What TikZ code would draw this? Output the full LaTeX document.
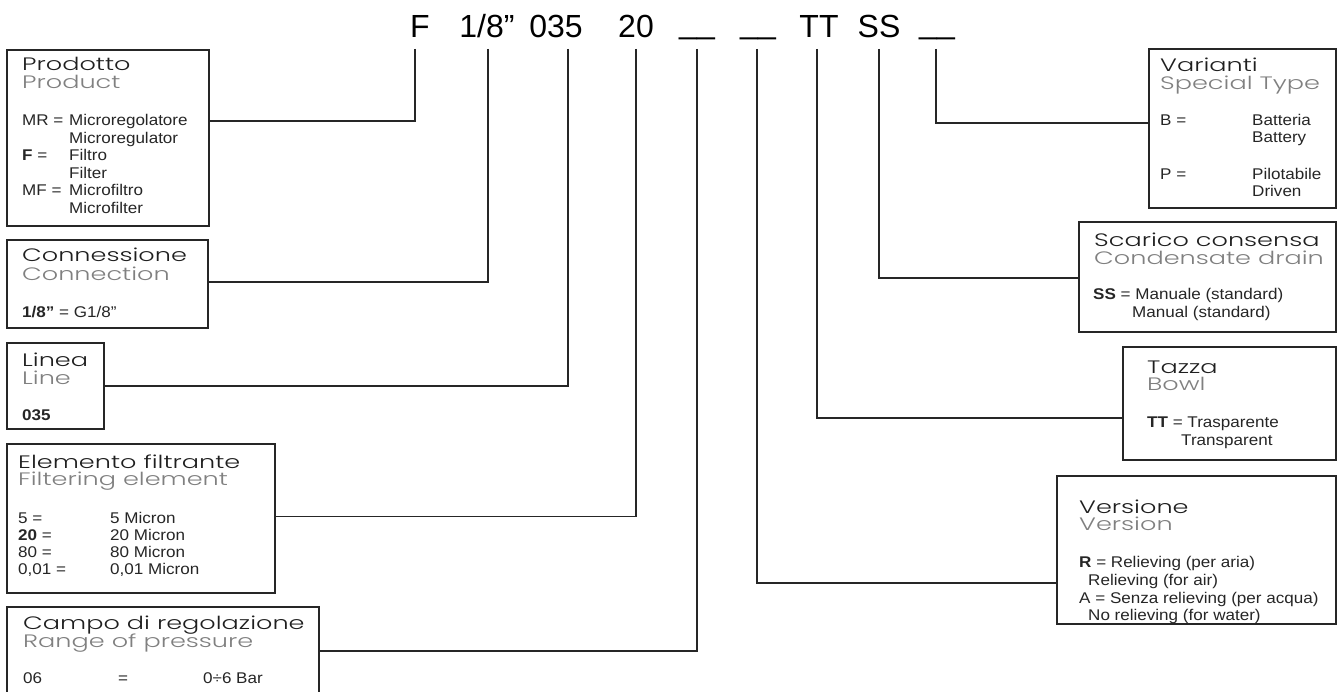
\documentclass[tikz,border=0pt]{standalone}
\usepackage{fontspec}
\newfontfamily\headfont{Poppins Light}[FakeStretch=1.42]
\newfontfamily\bodyfont{Liberation Sans}[FakeStretch=1.1]
\newfontfamily\codefont{Liberation Sans}
\begin{document}
\begin{tikzpicture}[x=1pt,y=-1pt,
  box/.style={draw=black!85,line width=1.2pt,anchor=north west,inner sep=0pt,outer sep=0pt},
  conn/.style={draw=black!85,line width=1.2pt},
  ttl/.style={anchor=base west,inner sep=0pt,font=\headfont\fontsize{18}{18}\selectfont,text=black!88},
  sub/.style={ttl,text=black!50},
  bd/.style={anchor=base west,inner sep=0pt,font=\bodyfont\fontsize{15.5}{16}\selectfont,text=black!85},
  code/.style={anchor=base,inner sep=0pt,font=\codefont\fontsize{32}{32}\selectfont,text=black}]
\useasboundingbox (0,0) rectangle (1337,692);
\fill[white] (0,0) rectangle (1337,692);

% code string
\node[code] (cF)  at (420,38) {F};
\node[code] (c18) at (487,38) {1/8”};
\node[code] (c035) at (556,38) {035};
\node[code] (c20) at (636,38) {20};
\node[code] (cU1) at (697,34) {\_\_};
\node[code] (cU2) at (758,34) {\_\_};
\node[code] (cTT) at (819,38) {TT};
\node[code] (cSS) at (879,38) {SS};
\node[code] (cU3) at (937,34) {\_\_};

% tick tops
\coordinate (tF) at (415,49);
\coordinate (t18) at (488,49);
\coordinate (t035) at (568,49);
\coordinate (t20) at (636,49);
\coordinate (tU1) at (697,49);
\coordinate (tU2) at (757,49);
\coordinate (tTT) at (817,49);
\coordinate (tSS) at (879,49);
\coordinate (tU3) at (936,49);

% boxes
\node[box,minimum width=202pt,minimum height=176pt] (prod) at (7,50) {};
\node[box,minimum width=201pt,minimum height=88pt] (conx) at (7,240) {};
\node[box,minimum width=97pt,minimum height=86pt] (lin) at (7,343) {};
\node[box,minimum width=268pt,minimum height=149pt] (elem) at (7,444) {};
\node[box,minimum width=312pt,minimum height=120pt] (campo) at (7,607) {};
\node[box,minimum width=187pt,minimum height=159pt] (var) at (1149,49) {};
\node[box,minimum width=257pt,minimum height=110pt] (scar) at (1079,222) {};
\node[box,minimum width=213pt,minimum height=113pt] (taz) at (1123,347) {};
\node[box,minimum width=279pt,minimum height=148pt] (vers) at (1057,476) {};

% connector ends on boxes
\coordinate (eF) at (209,121);
\coordinate (e18) at (208,282);
\coordinate (e035) at (104,386);
\coordinate (e20) at (275,516.5);
\coordinate (eU1) at (319,651);
\coordinate (eU2) at (1057,583);
\coordinate (eTT) at (1123,418);
\coordinate (eSS) at (1079,278);
\coordinate (eU3) at (1149,123);

\draw[conn] (tF) |- (eF);
\draw[conn] (t18) |- (e18);
\draw[conn] (t035) |- (e035);
\draw[conn] (t20) |- (e20);
\draw[conn] (tU1) |- (eU1);
\draw[conn] (tU2) |- (eU2);
\draw[conn] (tTT) |- (eTT);
\draw[conn] (tSS) |- (eSS);
\draw[conn] (tU3) |- (eU3);

% Prodotto
\node[ttl] (p1) at (22,71) {Prodotto};
\node[sub] (p2) at (22,88.5) {Product};
\node[bd] (p3a) at (22,126) {MR =};
\node[bd] (p3b) at (69,126) {Microregolatore};
\node[bd] (p4) at (69,143.5) {Microregulator};
\node[bd] (p5a) at (22,161) {\textbf{F} =};
\node[bd] (p5b) at (69,161) {Filtro};
\node[bd] (p6) at (69,178.5) {Filter};
\node[bd] (p7a) at (22,196) {MF =};
\node[bd] (p7b) at (69,196) {Microfiltro};
\node[bd] (p8) at (69,213.5) {Microfilter};

% Connessione
\node[ttl] (k1) at (22,262) {Connessione};
\node[sub] (k2) at (22,280) {Connection};
\node[bd] (k3) at (22,317) {\textbf{1/8”} = G1/8”};

% Linea
\node[ttl] (l1) at (22,366) {Linea};
\node[sub] (l2) at (22,384) {Line};
\node[bd] (l3) at (22,420) {\textbf{035}};

% Elemento filtrante
\node[ttl] (f1) at (18,468) {Elemento filtrante};
\node[sub] (f2) at (18,485.5) {Filtering element};
\node[bd] (f3a) at (18,523) {5 =};
\node[bd] (f3b) at (110,523) {5 Micron};
\node[bd] (f4a) at (18,540) {\textbf{20} =};
\node[bd] (f4b) at (110,540) {20 Micron};
\node[bd] (f5a) at (18,557) {80 =};
\node[bd] (f5b) at (110,557) {80 Micron};
\node[bd] (f6a) at (18,574) {0,01 =};
\node[bd] (f6b) at (110,574) {0,01 Micron};

% Campo di regolazione
\node[ttl] (g1) at (23,629) {Campo di regolazione};
\node[sub] (g2) at (23,647) {Range of pressure};
\node[bd] (g3a) at (23,683) {06};
\node[bd] (g3b) at (118,683) {=};
\node[bd] (g3c) at (203,683) {0÷6 Bar};

% Varianti
\node[ttl] (v1) at (1160,72) {Varianti};
\node[sub] (v2) at (1160,90) {Special Type};
\node[bd] (v3a) at (1160,126) {B =};
\node[bd] (v3b) at (1252,126) {Batteria};
\node[bd] (v4) at (1252,143) {Battery};
\node[bd] (v5a) at (1160,180) {P =};
\node[bd] (v5b) at (1252,180) {Pilotabile};
\node[bd] (v6) at (1252,197) {Driven};

% Scarico condensa
\node[ttl] (s1) at (1094,247) {Scarico consensa};
\node[sub] (s2) at (1094,264.5) {Condensate drain};
\node[bd] (s3) at (1093,300) {\textbf{SS} = Manuale (standard)};
\node[bd] (s4) at (1132,317) {Manual (standard)};

% Tazza
\node[ttl] (z1) at (1147,373) {Tazza};
\node[sub] (z2) at (1147,390.5) {Bowl};
\node[bd] (z3) at (1147,427) {\textbf{TT} = Trasparente};
\node[bd] (z4) at (1181,445) {Transparent};

% Versione
\node[ttl] (r1) at (1079,513) {Versione};
\node[sub] (r2) at (1079,530.5) {Version};
\node[bd] (r3) at (1079,567) {\textbf{R} = Relieving (per aria)};
\node[bd] (r4) at (1088,585) {Relieving (for air)};
\node[bd] (r5) at (1079,603) {A = Senza relieving (per acqua)};
\node[bd] (r6) at (1088,620) {No relieving (for water)};
\end{tikzpicture}
\end{document}
